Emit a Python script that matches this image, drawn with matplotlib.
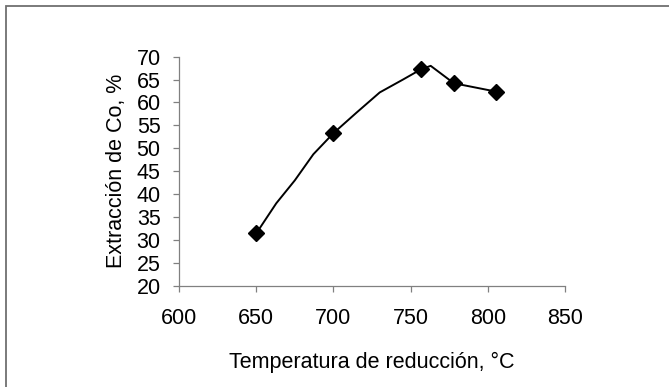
import matplotlib.pyplot as plt
from matplotlib.patches import Rectangle

plt.rcParams['font.family'] = ['Liberation Sans', 'DejaVu Sans']

# measured points (markers)
temp = [650, 700, 757, 778, 805]
extraccion = [31.4, 53.3, 67.3, 64.2, 62.4]

# drawn curve (incl. its bends)
curva_t = [650, 663, 675, 687, 700, 715, 730, 745, 757, 763, 778, 805]
curva_y = [31.4, 38.0, 43.0, 48.7, 53.3, 57.8, 62.2, 65.0, 67.3, 68.0, 64.2, 62.4]

xticks = [600, 650, 700, 750, 800, 850]
yticks = [20, 25, 30, 35, 40, 45, 50, 55, 60, 65, 70]

fig = plt.figure(figsize=(6.69, 3.87), dpi=100)
ax = fig.add_axes([0.2676, 0.2618, 0.577, 0.5917])

# frame around chart area
fig.patches.append(Rectangle((6 / 669, -0.1), 1.2, 1 - 6 / 387 + 0.1,
                             transform=fig.transFigure, fill=False,
                             edgecolor='#707070', linewidth=1.3))

ax.plot(curva_t, curva_y, color='black', linewidth=1.4, zorder=2)
ax.plot(temp, extraccion, linestyle='none', marker='D', markersize=8,
        color='black', zorder=3)

ax.set_xlim(600, 850)
ax.set_ylim(20, 70)
ax.set_xticks(xticks)
ax.set_yticks(yticks)

for s in ['top', 'right']:
    ax.spines[s].set_visible(False)
for s in ['left', 'bottom']:
    ax.spines[s].set_color('#808080')
    ax.spines[s].set_linewidth(0.9)

ax.tick_params(direction='out', length=4.3, width=0.9, color='#808080',
               labelsize=15.5, labelcolor='black')
ax.tick_params(axis='x', pad=11.5)
ax.tick_params(axis='y', pad=9)

ax.set_xlabel('Temperatura de reducción, °C', fontsize=15.5, labelpad=17)
ax.set_ylabel('Extracción de Co, %', fontsize=15.5, labelpad=7)

fig.savefig('out.png', dpi=100)
